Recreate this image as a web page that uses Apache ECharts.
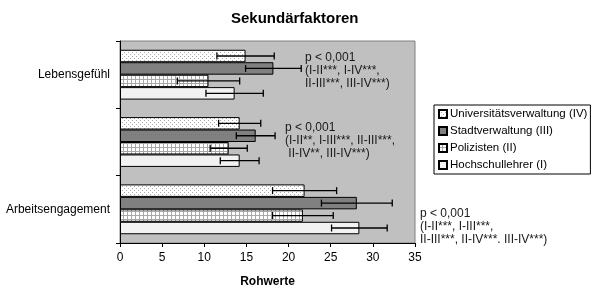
<!DOCTYPE html>
<html><head><meta charset="utf-8">
<script src="https://cdn.jsdelivr.net/npm/echarts@6/dist/echarts.min.js"></script>
<style>html,body{margin:0;padding:0;background:#fff}#c{width:600px;height:296px}</style>
</head><body><div id="c"></div>
<script>
const categories = ['Lebensgefühl', '', 'Arbeitsengagement'];
const seriesNames = ['Universitätsverwaltung (IV)', 'Stadtverwaltung (III)', 'Polizisten (II)', 'Hochschullehrer (I)'];
// means per series (IV, III, II, I), per category
const meanIV  = [14.9, 14.2, 21.9];
const meanIII = [18.2, 16.1, 28.1];
const meanII  = [10.5, 12.9, 21.7];
const meanI   = [13.6, 14.2, 28.4];
// standard deviations
const sdIV  = [3.4, 2.5, 3.8];
const sdIII = [3.3, 2.3, 4.2];
const sdII  = [3.7, 2.2, 3.6];
const sdI   = [3.4, 2.3, 3.3];
const xTicks = [0, 5, 10, 15, 20, 25, 30, 35];
const annotations = [
  ['p < 0,001', '(I-II***, I-IV***,', 'II-III***, III-IV***)'],
  ['p < 0,001', '(I-II**, I-III***, II-III***,', ' II-IV**, III-IV***)'],
  ['p < 0,001', '(I-II***, I-III***,', 'II-III***, II-IV***. III-IV***)']
];

const means = [meanIV, meanIII, meanII, meanI];
const sds = [sdIV, sdIII, sdII, sdI];

function makePattern(kind) {
  const c = document.createElement('canvas');
  c.width = 4; c.height = 4;
  const g = c.getContext('2d');
  g.fillStyle = '#ffffff'; g.fillRect(0, 0, 4, 4);
  if (kind === 'dots') {
    g.fillStyle = '#a8a8a8';
    g.fillRect(0, 0, 1, 1);
    g.fillRect(2, 2, 1, 1);
  } else if (kind === 'grid') {
    g.fillStyle = '#a8a8a8';
    g.fillRect(3, 0, 1, 4);
    g.fillRect(0, 3, 4, 1);
  }
  return c;
}
const fills = [
  { image: makePattern('dots'), repeat: 'repeat' },
  '#808080',
  { image: makePattern('grid'), repeat: 'repeat' },
  '#f2f2f2'
];
const GAP = 0.26;
const FONT = 'Liberation Sans, Arial, sans-serif';

const series = [];
seriesNames.forEach((name, i) => {
  series.push({
    name: name, type: 'bar', data: means[i],
    barGap: '0%', barCategoryGap: (GAP * 100) + '%',
    itemStyle: { color: fills[i], borderColor: '#000', borderWidth: 1 },
    silent: true, z: 2
  });
});
const errData = [];
for (let s = 0; s < 4; s++) {
  for (let k = 0; k < categories.length; k++) {
    errData.push([means[s][k] - sds[s][k], means[s][k] + sds[s][k], k, s]);
  }
}
series.push({
  type: 'custom', z: 5, silent: true,
  encode: { x: [0, 1], y: 2 },
  data: errData,
  renderItem: function (params, api) {
    const lo = api.value(0), hi = api.value(1), cat = api.value(2), si = api.value(3);
    const pLo = api.coord([lo, cat]);
    const pHi = api.coord([hi, cat]);
    const band = api.size([0, 1])[1];
    const bw = band * (1 - GAP) / 4;
    const y = pLo[1] - 2 * bw + (si + 0.5) * bw;
    const h = 3.5;
    const st = { stroke: '#000', lineWidth: 1.3 };
    return { type: 'group', children: [
      { type: 'line', shape: { x1: pLo[0], y1: y, x2: pHi[0], y2: y }, style: st },
      { type: 'line', shape: { x1: pLo[0], y1: y - h, x2: pLo[0], y2: y + h }, style: st },
      { type: 'line', shape: { x1: pHi[0], y1: y - h, x2: pHi[0], y2: y + h }, style: st }
    ]};
  }
});

const annotPos = [[305, 51], [285, 121], [420, 207]];
const graphics = annotations.map((lines, i) => ({
  type: 'text', left: annotPos[i][0], top: annotPos[i][1], silent: true,
  style: { text: lines.join('\n'), font: '12px ' + FONT, fill: '#1a1a1a', lineHeight: 13 }
}));

const chart = echarts.init(document.getElementById('c'), null, { renderer: 'canvas' });
chart.setOption({
  animation: false,
  backgroundColor: '#fff',
  textStyle: { fontFamily: FONT },
  title: { text: 'Sekundärfaktoren', left: 226, top: 6,
    textStyle: { fontSize: 15, fontWeight: 'bold', color: '#000', fontFamily: FONT } },
  legend: {
    data: seriesNames.map(n => ({ name: n, icon: 'rect' })), orient: 'vertical', left: 434, top: 105,
    itemWidth: 8, itemHeight: 8, itemGap: 5,
    borderColor: '#000', borderWidth: 1, padding: [3, 3, 3, 4],
    textStyle: { fontSize: 11.5, color: '#000', fontFamily: FONT, padding: [0, 0, 0, -2] },
    selectedMode: false
  },
  grid: { left: 120, right: 185, top: 41, bottom: 53, show: true,
    backgroundColor: '#c0c0c0', borderColor: '#808080', borderWidth: 1 },
  xAxis: {
    type: 'value', min: xTicks[0], max: xTicks[xTicks.length - 1], interval: 5,
    name: 'Rohwerte', nameLocation: 'middle', nameGap: 33,
    nameTextStyle: { fontSize: 12, fontWeight: 'bold', color: '#000', fontFamily: FONT },
    axisLine: { show: true, lineStyle: { color: '#000' } },
    axisTick: { show: true, length: 4, lineStyle: { color: '#000' } },
    axisLabel: { fontSize: 12, color: '#000', margin: 9, fontFamily: FONT },
    splitLine: { show: false }
  },
  yAxis: {
    type: 'category', data: categories, inverse: true,
    axisLine: { show: true, lineStyle: { color: '#000' } },
    axisTick: { show: true, length: 4, lineStyle: { color: '#000' } },
    axisLabel: { fontSize: 12, color: '#000', margin: 10, fontFamily: FONT }
  },
  series: series,
  graphic: graphics
});
</script></body></html>
